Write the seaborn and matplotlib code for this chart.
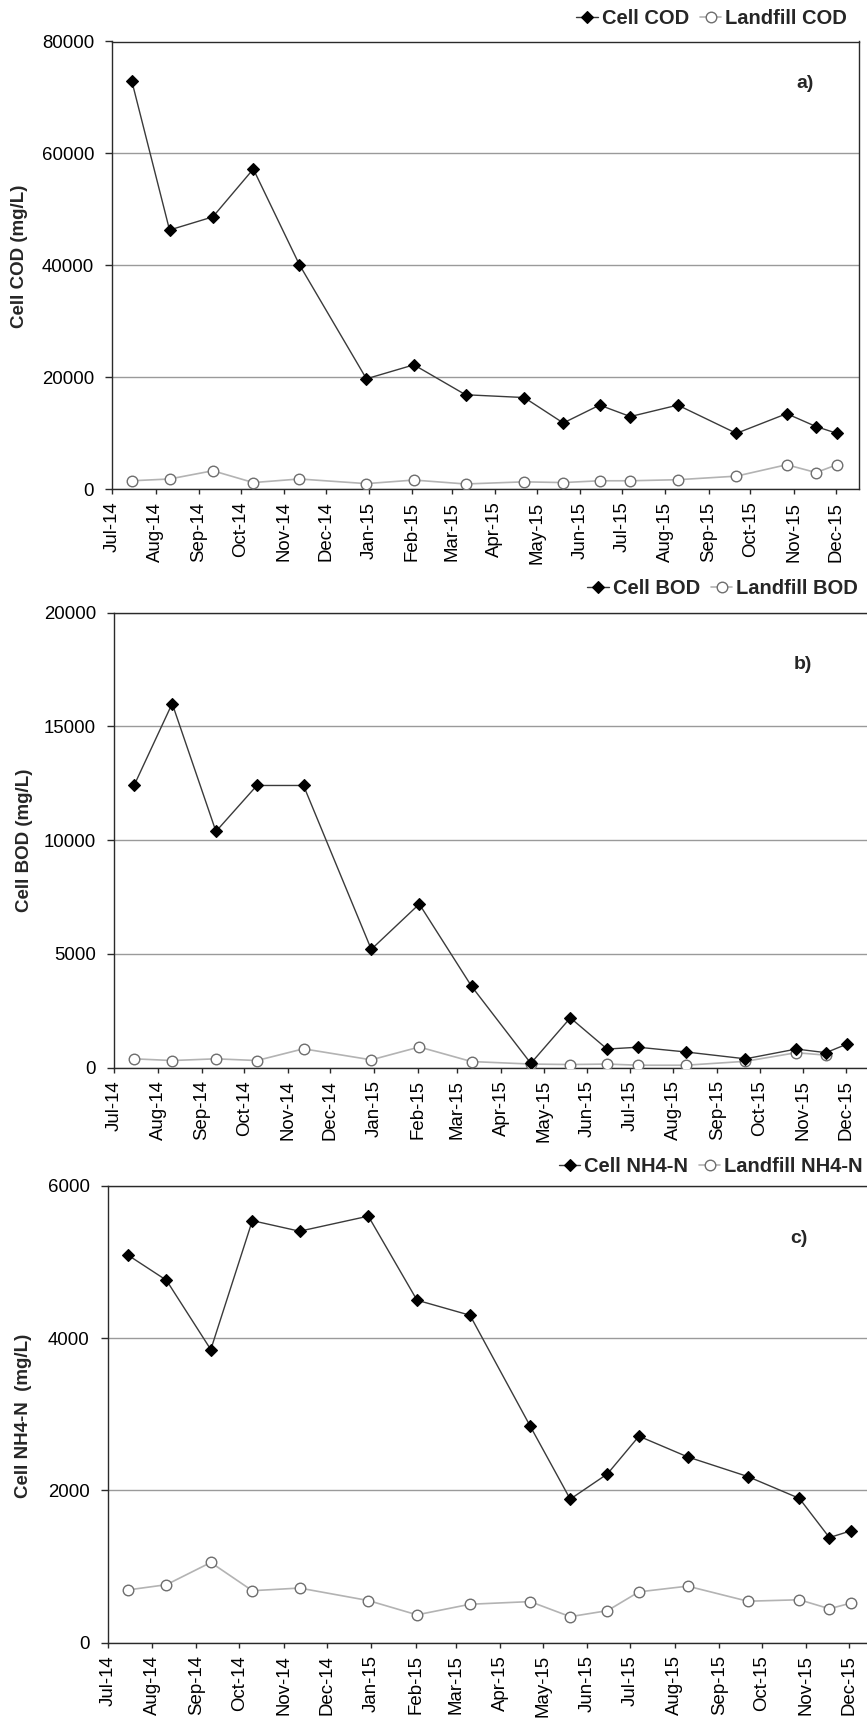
import matplotlib
matplotlib.use("Agg")
import matplotlib.pyplot as plt
import matplotlib.dates as mdates
import numpy as np
import pandas as pd
import seaborn as sns

# Sampling dates (shared by all three parameters)
sample_dates = [
    "2014-07-15", "2014-08-11", "2014-09-11", "2014-10-10", "2014-11-12",
    "2014-12-30", "2015-02-02", "2015-03-11", "2015-04-22", "2015-05-20",
    "2015-06-15", "2015-07-07", "2015-08-10", "2015-09-21", "2015-10-27",
    "2015-11-17", "2015-12-02",
]

cell_cod = [72900, 46300, 48650, 57200, 40100, 19700, 22200, 16850, 16350,
            11800, 15000, 12950, 15000, 9950, 13470, 11170, 9950]
landfill_cod = [1470, 1790, 3260, 1150, 1790, 960, 1600, 900, 1280,
                1150, 1470, 1470, 1660, 2300, 4340, 2940, 4340]

cell_bod = [12400, 16000, 10380, 12400, 12400, 5200, 7190, 3580, 190,
            2190, 820, 900, 690, 390, 820, 660, 1040]
landfill_bod = [390, 315, 390, 315, 830, 345, 910, 270, 160,
                140, 160, 110, 110, 280, 660, 550, np.nan]

cell_nh4 = [5094, 4762, 3851, 5545, 5406, 5604, 4500, 4302, 2847,
            1886, 2218, 2713, 2441, 2183, 1896, 1381, 1470]
landfill_nh4 = [693, 762, 1054, 683, 718, 554, 366, 505, 540,
                342, 421, 668, 743, 545, 564, 446, 520]

panel_tags = ["a)", "b)", "c)"]
cell_names = ["Cell COD", "Cell BOD", "Cell NH4-N"]
landfill_names = ["Landfill COD", "Landfill BOD", "Landfill NH4-N"]
y_titles = ["Cell COD (mg/L)", "Cell BOD (mg/L)", "Cell NH4-N  (mg/L)"]
y_max = [80000, 20000, 6000]
y_step = [20000, 5000, 2000]

sns.set_style("white")
plt.rcParams["font.family"] = ["Liberation Sans", "DejaVu Sans"]

W, H = 867, 1720
fig = plt.figure(figsize=(W / 100, H / 100), dpi=100)

# axes rectangles in pixels: left, right, top, bottom
rects_px = [
    (112.3, 859.3, 41.5, 489.0),
    (114.3, 869.7, 612.5, 1067.7),
    (107.7, 873.8, 1186.0, 1642.7),
]
legend_px = [(847, 18.3), (858, 588.6), (863, 1166.5)]
ylabel_pos = [(-0.1128, 0.519), (-0.1077, 0.50), (-0.0988, 0.496)]
tag_pos = [(0.927, 0.907), (0.911, 0.885), (0.9025, 0.884)]

series = [
    (cell_cod, landfill_cod),
    (cell_bod, landfill_bod),
    (cell_nh4, landfill_nh4),
]

x0 = pd.Timestamp("2014-07-01")
x1 = pd.Timestamp("2015-12-18")
dates = pd.to_datetime(sample_dates)

for i, ((cell, landfill), (l, r, t, b)) in enumerate(zip(series, rects_px)):
    ax = fig.add_axes([l / W, 1 - b / H, (r - l) / W, (b - t) / H])
    df = pd.DataFrame({"date": dates, "cell": cell, "landfill": landfill})

    sns.lineplot(data=df, x="date", y="landfill", ax=ax, color="#b3b3b3",
                 lw=1.2, marker="o", ms=7.6, mfc="white", mec="#6e6e6e",
                 mew=1.0, label=landfill_names[i], zorder=3)
    sns.lineplot(data=df, x="date", y="cell", ax=ax, color="#3a3a3a",
                 lw=1.0, marker="D", ms=5.8, mfc="black", mec="black",
                 mew=0.8, label=cell_names[i], zorder=4)

    ax.set_xlim(x0, x1)
    ax.set_ylim(0, y_max[i])
    ax.set_yticks(np.arange(0, y_max[i] + 1, y_step[i]))
    ax.yaxis.set_major_formatter(matplotlib.ticker.FuncFormatter(lambda v, p: f"{v:.0f}"))
    ax.xaxis.set_major_locator(mdates.MonthLocator())
    ax.xaxis.set_major_formatter(mdates.DateFormatter("%b-%y"))

    ax.yaxis.grid(True, color="#9a9a9a", lw=1.0)
    ax.xaxis.grid(False)
    ax.set_axisbelow(True)
    for sp in ax.spines.values():
        sp.set_visible(True)
        sp.set_color("#2a2a2a")
        sp.set_linewidth(1.0)

    ax.tick_params(axis="y", direction="out", length=4.8, width=1.0,
                   pad=8.3, labelsize=13.4, colors="#2a2a2a", labelcolor="black", left=True)
    ax.tick_params(axis="x", direction="out", length=3.6, width=1.0,
                   pad=5.5, labelsize=13.4, colors="#2a2a2a", labelcolor="black", bottom=True)
    plt.setp(ax.get_xticklabels(), rotation=90, ha="center", va="top")

    ax.set_xlabel("")
    ax.set_ylabel(y_titles[i], fontsize=13.5, fontweight="bold")
    ax.yaxis.set_label_coords(*ylabel_pos[i])

    ax.text(tag_pos[i][0], tag_pos[i][1], panel_tags[i], transform=ax.transAxes,
            ha="center", va="center", fontsize=14, fontweight="bold")

    handles, labels = ax.get_legend_handles_labels()
    order = [labels.index(cell_names[i]), labels.index(landfill_names[i])]
    if ax.legend_ is not None:
        ax.legend_.remove()
    lx, ly = legend_px[i]
    ax.legend([handles[k] for k in order], [labels[k] for k in order],
              loc="center right", bbox_to_anchor=(lx / W, 1 - ly / H),
              bbox_transform=fig.transFigure, ncol=2, frameon=False,
              borderpad=0, borderaxespad=0, handlelength=1.05,
              handletextpad=0.2, columnspacing=0.55,
              prop={"weight": "bold", "size": 14.5})

fig.savefig("out.png", dpi=100)
